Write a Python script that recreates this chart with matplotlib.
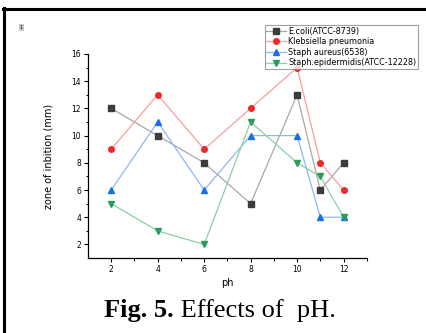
import matplotlib
matplotlib.use("Agg")
import matplotlib.pyplot as plt
from matplotlib.lines import Line2D

ph = [2, 4, 6, 8, 10, 11, 12]
ecoli = [12, 10, 8, 5, 13, 6, 8]
klebsiella = [9, 13, 9, 12, 15, 8, 6]
aureus = [6, 11, 6, 10, 10, 4, 4]
epidermidis = [5, 3, 2, 11, 8, 7, 4]

names = ["E.coli(ATCC-8739)", "Klebsiella pneumonia", "Staph aureus(6538)",
         "Staph.epidermidis(ATCC-12228)"]
series = [ecoli, klebsiella, aureus, epidermidis]
markers = ["s", "o", "^", "v"]
mcolors = ["#3c3c3c", "#f02828", "#1a6fe6", "#2a9d5a"]
lcolors = ["#a8a8a8", "#f5a0a0", "#8cb8f2", "#8ccfa6"]

fig = plt.figure(figsize=(4.27, 3.33), dpi=100)
ax = fig.add_axes([0.206, 0.225, 0.653, 0.613])

handles = []
for ys, mk, mc, lc, nm in zip(series, markers, mcolors, lcolors, names):
    ax.plot(ph, ys, color=lc, lw=0.9, zorder=2)
    ax.plot(ph, ys, ls="none", marker=mk, ms=4, color=mc, mec=mc, zorder=3)
    handles.append(Line2D([], [], color=lc, lw=0.9, marker=mk, ms=4,
                          markerfacecolor=mc, markeredgecolor=mc, label=nm))

ax.set_xlim(1, 13)
ax.set_ylim(1, 16)
ax.set_xticks([2, 4, 6, 8, 10, 12])
ax.set_xticks([3, 5, 7, 9, 11, 13], minor=True)
ax.set_yticks([2, 4, 6, 8, 10, 12, 14, 16])
ax.set_yticks([3, 5, 7, 9, 11, 13, 15], minor=True)
for s in ["top", "right"]:
    ax.spines[s].set_visible(False)
for s in ["left", "bottom"]:
    ax.spines[s].set_linewidth(0.9)
ax.tick_params(which="major", length=3, width=0.8, labelsize=5.5, pad=2)
ax.tick_params(which="minor", length=1.8, width=0.7)
ax.set_xlabel("ph", fontsize=7, labelpad=3)
ax.set_ylabel("zone of inbition (mm)", fontsize=7, labelpad=13)

leg = ax.legend(handles=handles, loc="upper left", bbox_to_anchor=(0.634, 1.142),
                fontsize=5.8, frameon=True, fancybox=False, edgecolor="#888888",
                borderpad=0.2, labelspacing=0.2, handlelength=2.5,
                handletextpad=0.2, borderaxespad=0)
leg.get_frame().set_linewidth(0.8)

# page frame pieces and caption
fig.add_artist(Line2D([0.008, 1.0], [0.974, 0.974], color="black", lw=2.2))
fig.add_artist(Line2D([0.01, 0.01], [0.0, 0.976], color="black", lw=2.2))
fig.text(0.05, 0.918, "1", fontsize=3.5, ha="center", va="center",
         bbox=dict(boxstyle="square,pad=0.25", fc="#c8c8c8", ec="none"))
t1 = fig.text(104 / 427, 0.048, "Fig. 5.", fontsize=19, fontweight="bold",
              family="Liberation Serif", ha="left", va="baseline")
fig.canvas.draw()
x1 = t1.get_window_extent().x1 / fig.bbox.width
fig.text(x1, 0.048, " Effects of  pH.", fontsize=19,
         family="Liberation Serif", ha="left", va="baseline")

fig.savefig("out.png", dpi=100)
